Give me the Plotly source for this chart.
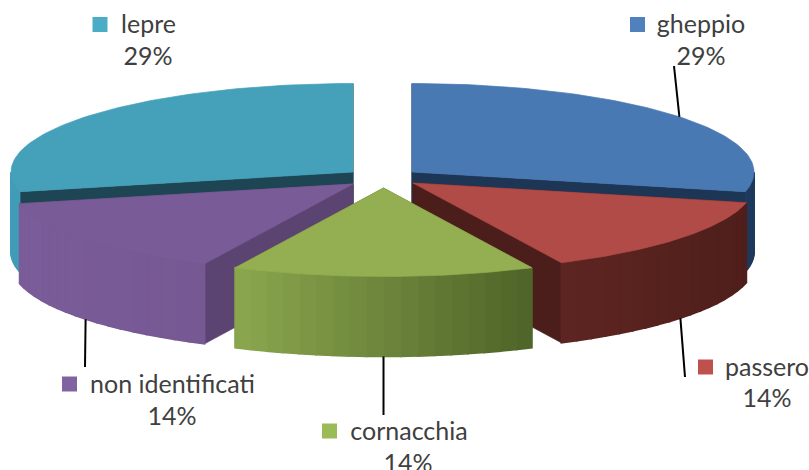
import numpy as np
import plotly.graph_objects as go

# ---- data ----
categories = ["gheppio", "passero", "cornacchia", "non identificati", "lepre"]
values = [2, 1, 1, 1, 2]
percent_labels = ["29%", "14%", "14%", "14%", "29%"]

# ---- style / geometry ----
WIDTH, HEIGHT = 809, 470
RX, RY, DEPTH = 342, 88.5, 80
apex = {"gheppio": (412, 172), "passero": (413, 183), "cornacchia": (383.5, 188),
        "non identificati": (353, 184), "lepre": (353, 172)}
top_color = {"gheppio": "#4879B2", "passero": "#B14B47", "cornacchia": "#94AE52",
             "non identificati": "#795B97", "lepre": "#45A0BA"}
marker_color = {"gheppio": "#4F81BD", "passero": "#C0504D", "cornacchia": "#9BBB59",
                "non identificati": "#8064A2", "lepre": "#4BACC6"}
cut_color = {"gheppio": "#1D3655", "passero": "#4C1E1B", "cornacchia": "#5A7030",
             "non identificati": "#5B4372", "lepre": "#1D4553"}
wall_left = {"gheppio": "#1F3A5C", "passero": "#5E2521", "cornacchia": "#8BA74E",
             "non identificati": "#7A5C99", "lepre": "#429DB7"}
wall_right = {"gheppio": "#1F3A5C", "passero": "#4F1F1B", "cornacchia": "#4E6328",
              "non identificati": "#765893", "lepre": "#429DB7"}
label_pos = {
    "gheppio": dict(square=(637.5, 24.5), name=(701, 27), pct=(701, 59)),
    "passero": dict(square=(705.5, 367), name=(767, 370), pct=(767, 401)),
    "cornacchia": dict(square=(329.5, 431), name=(409, 434), pct=(408, 466)),
    "non identificati": dict(square=(69.5, 384), name=(172.5, 387), pct=(172, 419)),
    "lepre": dict(square=(100, 24.5), name=(148.5, 27), pct=(148, 59)),
}
leader_end = {"gheppio": (674, 66), "passero": (685, 377),
              "cornacchia": (383.5, 415), "non identificati": (85, 367)}
TEXT = "#404040"
FONT = "Lato"
FSIZE = 25


def hex2rgb(h):
    return np.array([int(h[i:i + 2], 16) for i in (1, 3, 5)], float)


def mix(a, b, t):
    c = hex2rgb(a) * (1 - t) + hex2rgb(b) * t
    return "rgb(%d,%d,%d)" % tuple(c.round())


def rim(name, deg, dy=0.0):
    cx, cy = apex[name]
    r = np.radians(deg)
    return cx + RX * np.sin(r), cy - RY * np.cos(r) + dy


fig = go.Figure()


def poly(xs, ys, color, lw=0.7):
    fig.add_trace(go.Scatter(x=list(xs), y=list(ys), mode="lines", fill="toself",
                             fillcolor=color, line=dict(color=color, width=lw),
                             hoverinfo="skip", showlegend=False))


# angular extent of each slice follows from the values, clockwise from 12 o'clock
edges = np.concatenate([[0], np.cumsum(values)]) / np.sum(values) * 360
extent = {c: (edges[i], edges[i + 1]) for i, c in enumerate(categories)}
mid = {c: sum(extent[c]) / 2 for c in categories}

# painter's order: back slices first
for name in ["lepre", "gheppio", "non identificati", "passero", "cornacchia"]:
    a0, a1 = extent[name]
    cx, cy = apex[name]
    # cut faces
    for a in (a0, a1):
        x, y = rim(name, a)
        poly([cx, x, x, cx, cx], [cy, y, y + DEPTH, cy + DEPTH, cy], cut_color[name])
    # outer wall, drawn as narrow strips for the shading
    w0, w1 = max(a0, 90), min(a1, 270)
    if w1 > w0:
        steps = np.linspace(w0, w1, 19)
        xmin, xmax = min(rim(name, s)[0] for s in steps), max(rim(name, s)[0] for s in steps)
        for s0, s1 in zip(steps[:-1], steps[1:]):
            fine = np.linspace(s0, s1, 4)
            xs, ys = rim(name, fine)
            t = (0.5 * (xs[0] + xs[-1]) - xmin) / max(xmax - xmin, 1)
            poly(np.r_[xs, xs[::-1], xs[0]], np.r_[ys, ys[::-1] + DEPTH, ys[0]],
                 mix(wall_left[name], wall_right[name], t), lw=1.6)
    # top face
    arc = np.linspace(a0, a1, 80)
    xs, ys = rim(name, arc)
    poly(np.r_[cx, xs, cx], np.r_[cy, ys, cy], top_color[name])

# leader lines start on the rim at each slice's mid angle
for name, (ex, ey) in leader_end.items():
    sx, sy = rim(name, mid[name], 0 if mid[name] < 90 else DEPTH)
    fig.add_trace(go.Scatter(x=[sx, ex], y=[sy, ey], mode="lines",
                             line=dict(color="#000000", width=2),
                             hoverinfo="skip", showlegend=False))

# data labels
for name, pct in zip(categories, percent_labels):
    p = label_pos[name]
    fig.add_trace(go.Scatter(x=[p["square"][0]], y=[p["square"][1]], mode="markers",
                             marker=dict(symbol="square", size=15, color=marker_color[name]),
                             hoverinfo="skip", showlegend=False))
    fig.add_trace(go.Scatter(x=[p["name"][0], p["pct"][0]], y=[p["name"][1], p["pct"][1]],
                             mode="text", text=[name, pct], textposition="middle center",
                             textfont=dict(family=FONT, size=FSIZE, color=TEXT),
                             hoverinfo="skip", showlegend=False, cliponaxis=False))

fig.update_layout(
    width=WIDTH, height=HEIGHT, autosize=False,
    margin=dict(l=0, r=0, t=0, b=0),
    paper_bgcolor="#FFFFFF", plot_bgcolor="#FFFFFF",
    xaxis=dict(range=[0, WIDTH], visible=False, fixedrange=True),
    yaxis=dict(range=[HEIGHT, 0], visible=False, fixedrange=True),
    showlegend=False,
)
fig.write_html("out.html", config={"displayModeBar": False},
               post_script="document.body.style.margin='0';document.body.style.overflow='hidden';")
